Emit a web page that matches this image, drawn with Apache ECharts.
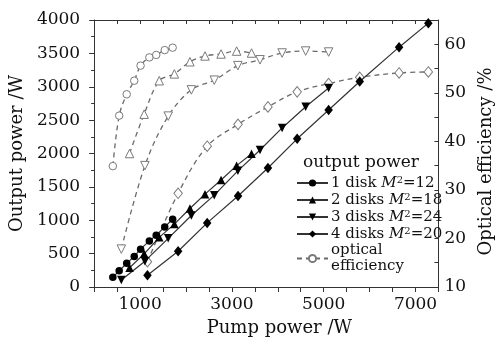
<!DOCTYPE html>
<html>
<head>
<meta charset="utf-8">
<script src="https://cdn.jsdelivr.net/npm/echarts@6/dist/echarts.min.js"></script>
<style>
html,body{margin:0;padding:0;background:#fff;}
#c{width:503px;height:342px;}
</style>
</head>
<body>
<div id="c"></div>
<script>
// Pump power (W) for each configuration
var pump1 = [407, 545, 709, 873, 1011, 1202, 1352, 1537, 1710];
var pump2 = [771, 1089, 1418, 1747, 2086, 2415, 2764, 3103, 3428];
var pump3 = [592, 1106, 1613, 2117, 2616, 3130, 3613, 4094, 4607, 5107];
var pump4 = [1161, 1829, 2462, 3134, 3785, 4422, 5107, 5785, 6642, 7279];
// Output power (W)
var out1 = [145, 243, 354, 458, 567, 691, 776, 900, 1015];
var out2 = [289, 497, 744, 942, 1176, 1391, 1603, 1818, 1995];
var out3 = [105, 387, 729, 1071, 1376, 1740, 2052, 2383, 2700, 2982];
var out4 = [176, 536, 960, 1363, 1783, 2220, 2651, 3078, 3593, 3953];
// Optical efficiency (%)
var eff1 = [34.9, 45.3, 49.7, 52.5, 55.6, 57.3, 57.8, 58.8, 59.3];
var eff2 = [37.5, 45.6, 52.5, 53.9, 56.4, 57.6, 58.0, 58.6, 58.2];
var eff3 = [17.8, 35.0, 45.2, 50.6, 52.6, 55.6, 56.8, 58.2, 58.6, 58.4];
var eff4 = [15.2, 29.3, 39.0, 43.5, 47.1, 50.2, 51.9, 53.2, 54.1, 54.3];
// Legend labels and axis tick labels
var legendNames = ['1 disk', '2 disks', '3 disks', '4 disks'];
var m2Values = ['12', '18', '24', '20'];
var effName = 'optical\nefficiency';
var xTickLabels = [1000, 3000, 5000, 7000];
var yLeftTickLabels = [0, 500, 1000, 1500, 2000, 2500, 3000, 3500, 4000];
var yRightTickLabels = [10, 20, 30, 40, 50, 60];

var FF = 'DejaVu Serif';
function zip(a, b) { return a.map(function (v, i) { return [v, b[i]]; }); }

var chart = echarts.init(document.getElementById('c'), null, {renderer: 'canvas'});
var solidColor = '#333';
var dashColor = '#6a6a6a';
var openBorder = '#7a7a7a';
var symbols = [
  {symbol: 'circle', size: 7.5, rotate: 0},
  {symbol: 'triangle', size: 8.5, rotate: 0},
  {symbol: 'triangle', size: 8.5, rotate: 180},
  {symbol: 'diamond', size: [8.5, 10.5], rotate: 0}
];
var pumps = [pump1, pump2, pump3, pump4];
var outs = [out1, out2, out3, out4];
var effs = [eff1, eff2, eff3, eff4];
var fullNames = legendNames.map(function (n, i) { return n + ' M2=' + m2Values[i]; });

var series = [];
for (var i = 0; i < 4; i++) {
  series.push({
    name: effName, type: 'line', xAxisIndex: 0, yAxisIndex: 1,
    data: zip(pumps[i], effs[i]), smooth: 0.35,
    symbol: symbols[i].symbol, symbolSize: symbols[i].size, symbolRotate: symbols[i].rotate,
    lineStyle: {color: dashColor, width: 1.3, type: [5, 4]},
    itemStyle: {color: '#fff', borderColor: openBorder, borderWidth: 1},
    z: 2
  });
}
for (var j = 0; j < 4; j++) {
  series.push({
    name: fullNames[j], type: 'line', xAxisIndex: 0, yAxisIndex: 0,
    data: zip(pumps[j], outs[j]),
    symbol: symbols[j].symbol, symbolSize: symbols[j].size, symbolRotate: symbols[j].rotate,
    lineStyle: {color: solidColor, width: 1.2},
    itemStyle: {color: '#000', borderWidth: 0},
    z: 3
  });
}

var axisLineStyle = {color: '#333', width: 1};
var labelStyle = {fontFamily: FF, fontSize: 17, color: '#111'};
var nameStyle = {fontFamily: FF, fontSize: 18, color: '#111'};

var option = {
  animation: false,
  backgroundColor: '#fff',
  grid: {left: 87, right: 51, top: 20, bottom: 54, containLabel: false},
  xAxis: [
    {type: 'value', position: 'bottom', min: 0, max: 7500, interval: 500,
     axisLine: {show: true, lineStyle: axisLineStyle},
     axisTick: {show: true, length: 5, lineStyle: axisLineStyle},
     axisLabel: Object.assign({interval: 0, margin: 9, formatter: function (v) { return xTickLabels.indexOf(v) >= 0 ? String(v) : ''; }}, labelStyle),
     splitLine: {show: false},
     name: 'Pump power /W', nameLocation: 'middle', nameGap: 32,
     nameTextStyle: Object.assign({padding: [0, 0, 0, 26]}, nameStyle)},
    {type: 'value', position: 'top', min: 0, max: 7500, interval: 500,
     axisLine: {show: true, onZero: false, lineStyle: axisLineStyle},
     axisTick: {show: true, inside: true, length: 4, lineStyle: axisLineStyle},
     axisLabel: {show: false}, splitLine: {show: false}}
  ],
  yAxis: [
    {type: 'value', position: 'left', min: 0, max: 4000, interval: 500,
     axisLine: {show: true, onZero: false, lineStyle: axisLineStyle},
     axisTick: {show: true, length: 5, lineStyle: axisLineStyle},
     minorTick: {show: true, splitNumber: 2, length: 3, lineStyle: axisLineStyle},
     axisLabel: Object.assign({interval: 0, margin: 14, formatter: function (v) { return yLeftTickLabels.indexOf(v) >= 0 ? String(v) : ''; }}, labelStyle),
     splitLine: {show: false}, minorSplitLine: {show: false},
     name: 'Output power /W', nameLocation: 'middle', nameGap: 62, nameTextStyle: nameStyle},
    {type: 'value', position: 'right', min: 10, max: 65, interval: 5,
     axisLine: {show: true, onZero: false, lineStyle: axisLineStyle},
     axisTick: {show: true, inside: true, length: 4, lineStyle: axisLineStyle},
     axisLabel: Object.assign({interval: 0, margin: 6, formatter: function (v) { return yRightTickLabels.indexOf(v) >= 0 ? String(v) : ''; }}, labelStyle),
     splitLine: {show: false},
     name: 'Optical efficiency /%', nameLocation: 'middle', nameGap: 32,
     nameTextStyle: Object.assign({padding: [0, 16, 0, 0]}, nameStyle)}
  ],
  legend: {
    show: true, orient: 'vertical', left: 296, top: 175,
    itemWidth: 31, itemHeight: 9, itemGap: 1, padding: 0,
    data: fullNames.concat([effName]),
    formatter: function (name) {
      var k = fullNames.indexOf(name);
      if (k < 0) return '{n|optical}\n{n|efficiency}';
      return '{n|' + legendNames[k] + ' }{i|M}{s|2}{n|=' + m2Values[k] + '}';
    },
    textStyle: {
      fontFamily: FF, fontSize: 15, color: '#111', padding: [0, 0, 0, -2],
      rich: {
        n: {fontFamily: FF, fontSize: 15, lineHeight: 16, color: '#111'},
        i: {fontFamily: FF, fontSize: 15, lineHeight: 16, fontStyle: 'italic', color: '#111'},
        s: {fontFamily: FF, fontSize: 10, lineHeight: 16, color: '#111', padding: [0, 0, 6, 0]}
      }
    }
  },
  graphic: [
    {type: 'text', left: 303, top: 154,
     style: {text: 'output power', font: '17px "DejaVu Serif"', fill: '#111'}}
  ],
  series: series
};
chart.setOption(option);
</script>
</body>
</html>
